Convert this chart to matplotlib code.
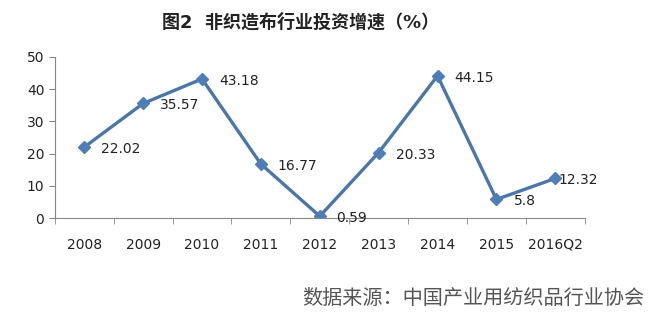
import numpy as np
import matplotlib.pyplot as plt

plt.rcParams['font.family'] = ['DejaVu Sans', 'Noto Sans CJK SC']

years = ['2008', '2009', '2010', '2011', '2012', '2013', '2014', '2015', '2016Q2']
growth = [22.02, 35.57, 43.18, 16.77, 0.59, 20.33, 44.15, 5.8, 12.32]
labels = ['22.02', '35.57', '43.18', '16.77', '0.59', '20.33', '44.15', '5.8', '12.32']
# label offset in pixels (the last label sits right on the marker)
label_dx = [17, 17, 17, 17, 16, 17, 17, 18, 3]

fig = plt.figure(figsize=(6.6, 3.33), dpi=100)
ax = fig.add_axes([0.083, 0.345, 0.803, 0.484])

x = np.arange(len(years))
ax.plot(x, growth, color='#4a76a8', lw=2.4, marker='D', ms=6.5,
        mfc='#4f7db5', mec='#4f7db5')
for xi, v, lab, dx in zip(x, growth, labels, label_dx):
    ax.annotate(lab, (xi, v), xytext=(dx, -2), textcoords='offset pixels',
                ha='left', va='center', fontsize=10, color='#222222')

ax.set_xlim(-0.5, len(years) - 0.5)
ax.set_ylim(0, 50)
ax.set_yticks(range(0, 51, 10))
ax.set_xticks(x)
ax.set_xticklabels(years)
ax.set_xticks(np.arange(-0.5, len(years), 1), minor=True)
ax.tick_params(axis='x', which='major', length=0, pad=14, labelsize=10, labelcolor='#222222')
ax.tick_params(axis='x', which='minor', length=4, color='#888888')
ax.tick_params(axis='y', length=4, color='#888888', labelsize=10, labelcolor='#222222')
for s in ['top', 'right']:
    ax.spines[s].set_visible(False)
for s in ['left', 'bottom']:
    ax.spines[s].set_color('#888888')

fig.text(0.455, 0.934, '图2  非织造布行业投资增速（%）', ha='center', va='center',
         fontsize=13, fontweight='bold', color='#222222')
fig.text(0.977, 0.105, '数据来源：中国产业用纺织品行业协会', ha='right', va='center',
         fontsize=14.5, color='#555555')

fig.savefig('out.png', dpi=100)
